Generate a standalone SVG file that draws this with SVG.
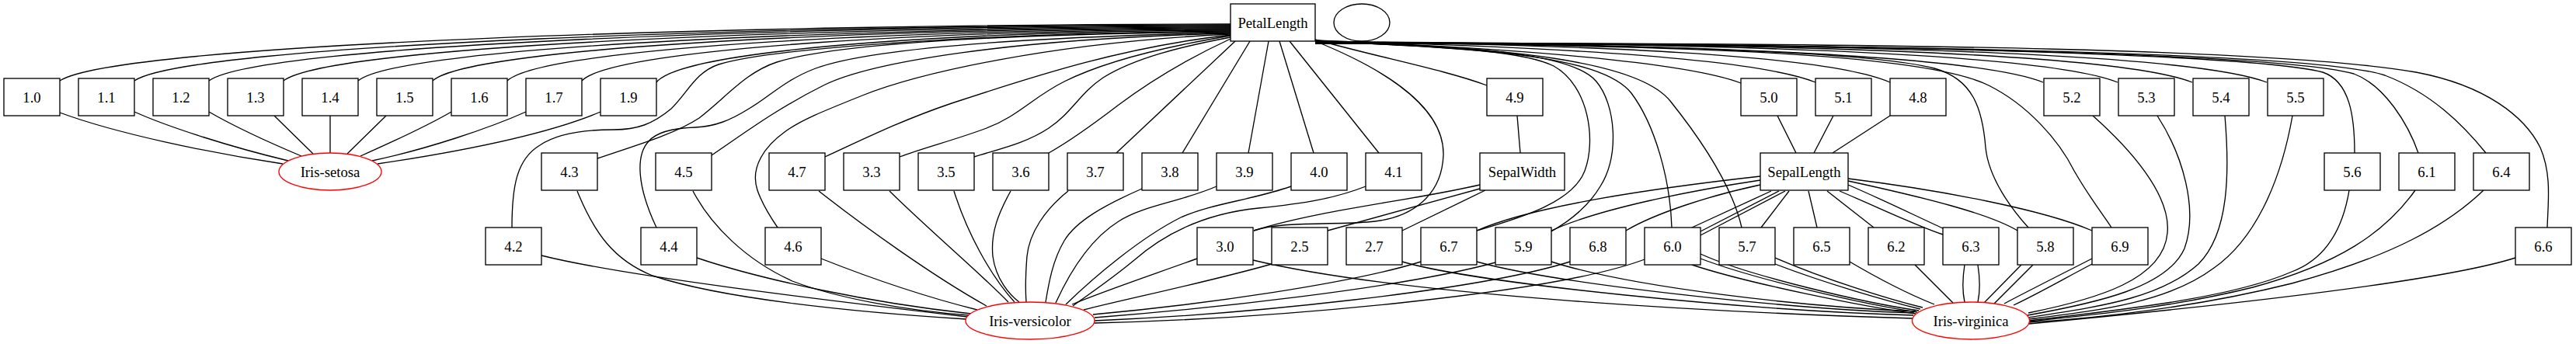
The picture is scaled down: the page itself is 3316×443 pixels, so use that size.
<svg xmlns="http://www.w3.org/2000/svg" width="3316" height="443" viewBox="0 0 3316 443">
<style>
.n rect{fill:#fff;stroke:#000;stroke-width:1.33}
.n ellipse{fill:#fff;stroke:#000;stroke-width:1.33}
.c ellipse{fill:#fff;stroke:#ff0000;stroke-width:1.33}
text{font-family:"Liberation Serif","Times New Roman",serif;font-size:18.67px;text-anchor:middle;fill:#000}
#edges path{fill:none;stroke:#000;stroke-width:1.33}
</style>
<rect width="3316" height="443" fill="#fff"/>
<g id="edges">
<!-- PetalLength to row1 left -->
<path d="M1584,31 C981,31 152,55 77,104"/>
<path d="M1584,32 C1020,32 244,56 173,104"/>
<path d="M1584,33 C1058,33 335,56 269,104"/>
<path d="M1584,34 C1096,34 426,57 365,104"/>
<path d="M1584,35 C1135,35 517,58 461,104"/>
<path d="M1584,36 C1173,36 608,58 557,104"/>
<path d="M1584,37 C1212,37 700,59 653,104"/>
<path d="M1584,38 C1250,38 791,60 749,104"/>
<path d="M1584,39 C1288,39 882,60 845,106"/>
<!-- row1 left to setosa -->
<path d="M77,145 C150,172 270,197 364,211"/>
<path d="M173,144 C220,165 300,190 371,207"/>
<path d="M269,144 C300,162 350,185 388,201"/>
<path d="M353,149 L403,198"/>
<path d="M425,149 L425,197"/>
<path d="M497,149 L447,198"/>
<path d="M581,144 C545,165 500,185 464,201"/>
<path d="M677,144 C630,165 550,192 479,207"/>
<path d="M773,144 C700,175 580,197 486,211"/>
<!-- PetalLength to row2/row3 versicolor values -->
<path d="M1584,40 C1300,42 1000,60 925,83 C895,93 885,120 864,140 C840,160 820,167 790,167 C760,167 720,170 695,187 C665,205 659,240 659,293"/>
<path d="M1584,41 C1300,44 1080,55 1000,80 C960,93 935,125 900,152 C870,172 820,187 769,204"/>
<path d="M1584,42 C1320,48 1120,62 1050,88 C1010,103 990,125 964,140 C940,155 920,163 895,164 C865,165 845,170 835,182 C818,200 820,240 845,293"/>
<path d="M1584,43 C1300,50 1120,80 1060,110 C1000,140 960,170 916,200"/>
<path d="M1584,44 C1350,55 1180,95 1110,123 C1060,143 1030,155 1010,170 C985,188 965,215 975,245 C982,265 992,280 1001,293"/>
<path d="M1584,45 C1450,60 1340,95 1225,133 C1160,155 1110,180 1062,202"/>
<path d="M1584,46 C1500,60 1420,80 1370,105 C1330,125 1310,150 1270,165 C1230,180 1190,190 1158,202"/>
<path d="M1584,48 C1520,60 1460,75 1420,100 C1390,120 1380,145 1350,165 C1320,185 1285,192 1254,202"/>
<path d="M1584,50 C1530,75 1480,105 1440,135 C1410,158 1380,180 1350,197"/>
<path d="M1590,53 L1437,197"/>
<path d="M1609,53 L1522,197"/>
<path d="M1633,53 L1607,197"/>
<path d="M1647,53 L1691,197"/>
<path d="M1660,53 L1775,197"/>
<path d="M1693,53 C1760,80 1860,130 1858,200 C1856,250 1820,282 1760,286 C1700,290 1650,285 1614,297"/>
<!-- PetalLength to right side -->
<path d="M1693,51 C1780,75 1860,90 1914,110"/>
<path d="M1693,52 C1800,60 1950,60 2000,85 C2045,110 2055,180 2040,220 C2025,260 1960,280 1901,297"/>
<path d="M1693,53 C1850,60 2020,62 2055,105 C2080,135 2085,200 2060,240 C2045,265 2020,285 1997,298"/>
<path d="M1693,53 C1900,62 2060,70 2100,120 C2130,160 2150,230 2152,293"/>
<path d="M1693,54 C1950,60 2110,80 2150,130 C2190,180 2230,240 2242,293"/>
<path d="M1693,54 C2100,58 2400,65 2490,88 C2540,102 2552,140 2556,190 C2560,230 2590,270 2611,293"/>
<path d="M1693,55 C2200,58 2480,70 2560,110 C2610,135 2650,180 2670,220 C2690,255 2710,280 2718,293"/>
<path d="M1693,52 C1950,62 2170,80 2241,107"/>
<path d="M1693,53 C2000,60 2260,75 2337,106"/>
<path d="M1693,53 C2050,58 2350,70 2433,106"/>
<path d="M1693,54 C2150,56 2540,70 2630,106"/>
<path d="M1693,54 C2200,55 2630,68 2726,106"/>
<path d="M1693,55 C2250,55 2720,66 2822,106"/>
<path d="M1693,55 C2300,55 2810,65 2918,106"/>
<path d="M1693,55 C2400,55 2900,70 2990,93 C3025,105 3031,150 3031,197"/>
<path d="M1693,56 C2450,56 2940,70 3030,95 C3070,110 3100,160 3113,197"/>
<path d="M1693,56 C2500,56 2990,70 3070,97 C3130,120 3170,160 3200,197"/>
<path d="M1693,56 C2500,54 2950,65 3110,93 C3200,110 3250,150 3270,190 C3285,225 3280,260 3279,293"/>
<!-- SepalWidth -->
<path d="M1953,149 L1957,197"/>
<path d="M1905,238 C1820,258 1700,270 1614,297"/>
<path d="M1905,243 L1709,297"/>
<path d="M1912,245 L1805,297"/>
<!-- SepalLength -->
<path d="M2288,149 L2312,197"/>
<path d="M2360,149 L2335,197"/>
<path d="M2433,149 L2359,197"/>
<path d="M2266,227 C2150,240 1980,262 1901,297"/>
<path d="M2266,232 C2180,245 2060,268 1997,297"/>
<path d="M2266,238 C2200,252 2130,275 2093,297"/>
<path d="M2280,246 L2178,293"/>
<path d="M2290,246 L2189,298"/>
<path d="M2298,246 L2189,303"/>
<path d="M2303,246 L2267,293"/>
<path d="M2328,246 L2339,293"/>
<path d="M2352,246 L2412,293"/>
<path d="M2379,238 C2430,260 2470,280 2501,294"/>
<path d="M2368,246 C2420,268 2465,290 2501,302"/>
<path d="M2379,233 C2480,255 2560,275 2597,297"/>
<path d="M2379,230 C2500,245 2630,270 2693,297"/>
<!-- to virginica from left -->
<path d="M1613,335 C1800,380 2200,402 2462,410"/>
<path d="M1805,337 C1900,365 2250,400 2463,406"/>
<path d="M1901,337 C2000,365 2300,398 2464,403"/>
<path d="M1997,337 C2100,370 2320,395 2466,401"/>
<path d="M2189,327 C2250,355 2400,390 2470,400"/>
<path d="M2189,333 C2260,360 2400,392 2468,402"/>
<path d="M2178,341 C2250,365 2400,395 2466,404"/>
<path d="M2285,332 C2350,360 2430,385 2475,396"/>
<path d="M2285,340 C2350,365 2430,388 2472,398"/>
<path d="M2381,337 C2420,360 2460,380 2490,392"/>
<path d="M2465,341 L2514,390"/>
<path d="M2529,341 C2526,360 2526,375 2529,389"/>
<path d="M2546,341 C2549,360 2549,375 2546,389"/>
<path d="M2602,341 L2554,390"/>
<path d="M2617,341 L2567,391"/>
<path d="M2693,333 C2650,355 2610,375 2580,391"/>
<path d="M2693,340 C2655,360 2620,380 2592,393"/>
<!-- to virginica from right -->
<path d="M2694,149 C2740,190 2795,250 2790,300 C2785,360 2700,385 2611,403"/>
<path d="M2777,149 C2810,200 2830,270 2812,320 C2790,370 2700,390 2610,406"/>
<path d="M2864,149 C2870,220 2870,300 2830,340 C2780,385 2700,395 2611,409"/>
<path d="M2951,149 C2935,240 2900,310 2850,345 C2790,390 2700,400 2612,411"/>
<path d="M3024,245 C3015,300 2990,335 2950,350 C2870,385 2720,400 2612,413"/>
<path d="M3109,245 C3070,300 3010,340 2900,370 C2800,395 2700,405 2612,414"/>
<path d="M3197,245 C3150,290 3080,330 2950,365 C2830,395 2700,410 2612,415"/>
<path d="M3238,332 C3150,360 2900,390 2612,417"/>
<!-- to versicolor -->
<path d="M697,329 C800,355 1050,385 1245,408"/>
<path d="M743,246 C765,300 790,335 840,355 C930,385 1100,402 1244,411"/>
<path d="M897,332 C980,360 1120,390 1250,404"/>
<path d="M892,246 C915,290 960,335 1020,362 C1080,385 1170,400 1247,406"/>
<path d="M1057,333 C1120,358 1190,382 1258,399"/>
<path d="M1054,246 C1110,290 1200,355 1270,394"/>
<path d="M1145,246 C1200,300 1260,350 1298,389"/>
<path d="M1228,246 C1245,300 1275,355 1306,389"/>
<path d="M1301,246 C1285,275 1275,300 1278,330 C1282,360 1300,380 1312,389"/>
<path d="M1375,246 C1345,270 1325,300 1322,330 C1320,355 1320,375 1321,389"/>
<path d="M1470,243 C1420,265 1385,285 1370,310 C1355,335 1350,365 1346,389"/>
<path d="M1566,240 C1520,260 1470,265 1440,285 C1400,310 1375,355 1359,390"/>
<path d="M1662,240 C1610,258 1560,262 1520,280 C1470,305 1410,355 1372,392"/>
<path d="M1758,240 C1720,255 1680,262 1620,268 C1550,275 1500,300 1460,335 C1430,360 1400,380 1381,394"/>
<path d="M1541,333 C1480,355 1420,375 1380,392"/>
<path d="M1637,340 C1560,362 1450,385 1395,399"/>
<path d="M1829,337 C1740,365 1550,392 1407,405"/>
<path d="M1925,338 C1800,372 1550,398 1409,409"/>
<path d="M2021,337 C1900,375 1600,405 1409,413"/>
<path d="M2117,334 C2000,378 1650,410 1409,416"/>
</g>
<g id="PetalLength" class="n"><rect x="1584" y="5" width="109" height="48"/><text x="1638.5" y="35.5">PetalLength</text></g>
<g id="empty" class="n"><ellipse cx="1753" cy="29" rx="36" ry="24"/></g>
<g id="n1_0" class="n"><rect x="5" y="101" width="72" height="48"/><text x="41" y="131.5">1.0</text></g>
<g id="n1_1" class="n"><rect x="101" y="101" width="72" height="48"/><text x="137" y="131.5">1.1</text></g>
<g id="n1_2" class="n"><rect x="197" y="101" width="72" height="48"/><text x="233" y="131.5">1.2</text></g>
<g id="n1_3" class="n"><rect x="293" y="101" width="72" height="48"/><text x="329" y="131.5">1.3</text></g>
<g id="n1_4" class="n"><rect x="389" y="101" width="72" height="48"/><text x="425" y="131.5">1.4</text></g>
<g id="n1_5" class="n"><rect x="485" y="101" width="72" height="48"/><text x="521" y="131.5">1.5</text></g>
<g id="n1_6" class="n"><rect x="581" y="101" width="72" height="48"/><text x="617" y="131.5">1.6</text></g>
<g id="n1_7" class="n"><rect x="677" y="101" width="72" height="48"/><text x="713" y="131.5">1.7</text></g>
<g id="n1_9" class="n"><rect x="773" y="101" width="72" height="48"/><text x="809" y="131.5">1.9</text></g>
<g id="n4_9" class="n"><rect x="1914" y="101" width="72" height="48"/><text x="1950" y="131.5">4.9</text></g>
<g id="n5_0" class="n"><rect x="2241" y="101" width="72" height="48"/><text x="2277" y="131.5">5.0</text></g>
<g id="n5_1" class="n"><rect x="2337" y="101" width="72" height="48"/><text x="2373" y="131.5">5.1</text></g>
<g id="n4_8" class="n"><rect x="2433" y="101" width="72" height="48"/><text x="2469" y="131.5">4.8</text></g>
<g id="n5_2" class="n"><rect x="2631" y="101" width="72" height="48"/><text x="2667" y="131.5">5.2</text></g>
<g id="n5_3" class="n"><rect x="2727" y="101" width="72" height="48"/><text x="2763" y="131.5">5.3</text></g>
<g id="n5_4" class="n"><rect x="2823" y="101" width="72" height="48"/><text x="2859" y="131.5">5.4</text></g>
<g id="n5_5" class="n"><rect x="2919" y="101" width="72" height="48"/><text x="2955" y="131.5">5.5</text></g>
<g id="setosa" class="c"><ellipse cx="425" cy="221" rx="66" ry="24"/><text x="425" y="227.5">Iris-setosa</text></g>
<g id="n4_3" class="n"><rect x="697" y="197" width="72" height="48"/><text x="733" y="227.5">4.3</text></g>
<g id="n4_5" class="n"><rect x="844" y="197" width="72" height="48"/><text x="880" y="227.5">4.5</text></g>
<g id="n4_7" class="n"><rect x="990" y="197" width="72" height="48"/><text x="1026" y="227.5">4.7</text></g>
<g id="n3_3" class="n"><rect x="1086" y="197" width="72" height="48"/><text x="1122" y="227.5">3.3</text></g>
<g id="n3_5" class="n"><rect x="1182" y="197" width="72" height="48"/><text x="1218" y="227.5">3.5</text></g>
<g id="n3_6" class="n"><rect x="1278" y="197" width="72" height="48"/><text x="1314" y="227.5">3.6</text></g>
<g id="n3_7" class="n"><rect x="1374" y="197" width="72" height="48"/><text x="1410" y="227.5">3.7</text></g>
<g id="n3_8" class="n"><rect x="1470" y="197" width="72" height="48"/><text x="1506" y="227.5">3.8</text></g>
<g id="n3_9" class="n"><rect x="1566" y="197" width="72" height="48"/><text x="1602" y="227.5">3.9</text></g>
<g id="n4_0" class="n"><rect x="1662" y="197" width="72" height="48"/><text x="1698" y="227.5">4.0</text></g>
<g id="n4_1" class="n"><rect x="1758" y="197" width="72" height="48"/><text x="1794" y="227.5">4.1</text></g>
<g id="SepalWidth" class="n"><rect x="1905" y="197" width="109" height="48"/><text x="1959.5" y="227.5">SepalWidth</text></g>
<g id="SepalLength" class="n"><rect x="2266" y="197" width="113" height="48"/><text x="2322.5" y="227.5">SepalLength</text></g>
<g id="n5_6" class="n"><rect x="2992" y="197" width="72" height="48"/><text x="3028" y="227.5">5.6</text></g>
<g id="n6_1" class="n"><rect x="3088" y="197" width="72" height="48"/><text x="3124" y="227.5">6.1</text></g>
<g id="n6_4" class="n"><rect x="3184" y="197" width="72" height="48"/><text x="3220" y="227.5">6.4</text></g>
<g id="n4_2" class="n"><rect x="625" y="293" width="72" height="48"/><text x="661" y="323.5">4.2</text></g>
<g id="n4_4" class="n"><rect x="825" y="293" width="72" height="48"/><text x="861" y="323.5">4.4</text></g>
<g id="n4_6" class="n"><rect x="985" y="293" width="72" height="48"/><text x="1021" y="323.5">4.6</text></g>
<g id="n3_0" class="n"><rect x="1541" y="293" width="72" height="48"/><text x="1577" y="323.5">3.0</text></g>
<g id="n2_5" class="n"><rect x="1637" y="293" width="72" height="48"/><text x="1673" y="323.5">2.5</text></g>
<g id="n2_7" class="n"><rect x="1733" y="293" width="72" height="48"/><text x="1769" y="323.5">2.7</text></g>
<g id="n6_7" class="n"><rect x="1829" y="293" width="72" height="48"/><text x="1865" y="323.5">6.7</text></g>
<g id="n5_9" class="n"><rect x="1925" y="293" width="72" height="48"/><text x="1961" y="323.5">5.9</text></g>
<g id="n6_8" class="n"><rect x="2021" y="293" width="72" height="48"/><text x="2057" y="323.5">6.8</text></g>
<g id="n6_0" class="n"><rect x="2117" y="293" width="72" height="48"/><text x="2153" y="323.5">6.0</text></g>
<g id="n5_7" class="n"><rect x="2213" y="293" width="72" height="48"/><text x="2249" y="323.5">5.7</text></g>
<g id="n6_5" class="n"><rect x="2309" y="293" width="72" height="48"/><text x="2345" y="323.5">6.5</text></g>
<g id="n6_2" class="n"><rect x="2405" y="293" width="72" height="48"/><text x="2441" y="323.5">6.2</text></g>
<g id="n6_3" class="n"><rect x="2501" y="293" width="72" height="48"/><text x="2537" y="323.5">6.3</text></g>
<g id="n5_8" class="n"><rect x="2597" y="293" width="72" height="48"/><text x="2633" y="323.5">5.8</text></g>
<g id="n6_9" class="n"><rect x="2693" y="293" width="72" height="48"/><text x="2729" y="323.5">6.9</text></g>
<g id="n6_6" class="n"><rect x="3238" y="293" width="72" height="48"/><text x="3274" y="323.5">6.6</text></g>
<g id="versicolor" class="c"><ellipse cx="1326" cy="413" rx="83" ry="24"/><text x="1326" y="419.5">Iris-versicolor</text></g>
<g id="virginica" class="c"><ellipse cx="2537" cy="413" rx="75.5" ry="24"/><text x="2537" y="419.5">Iris-virginica</text></g>
</svg>
